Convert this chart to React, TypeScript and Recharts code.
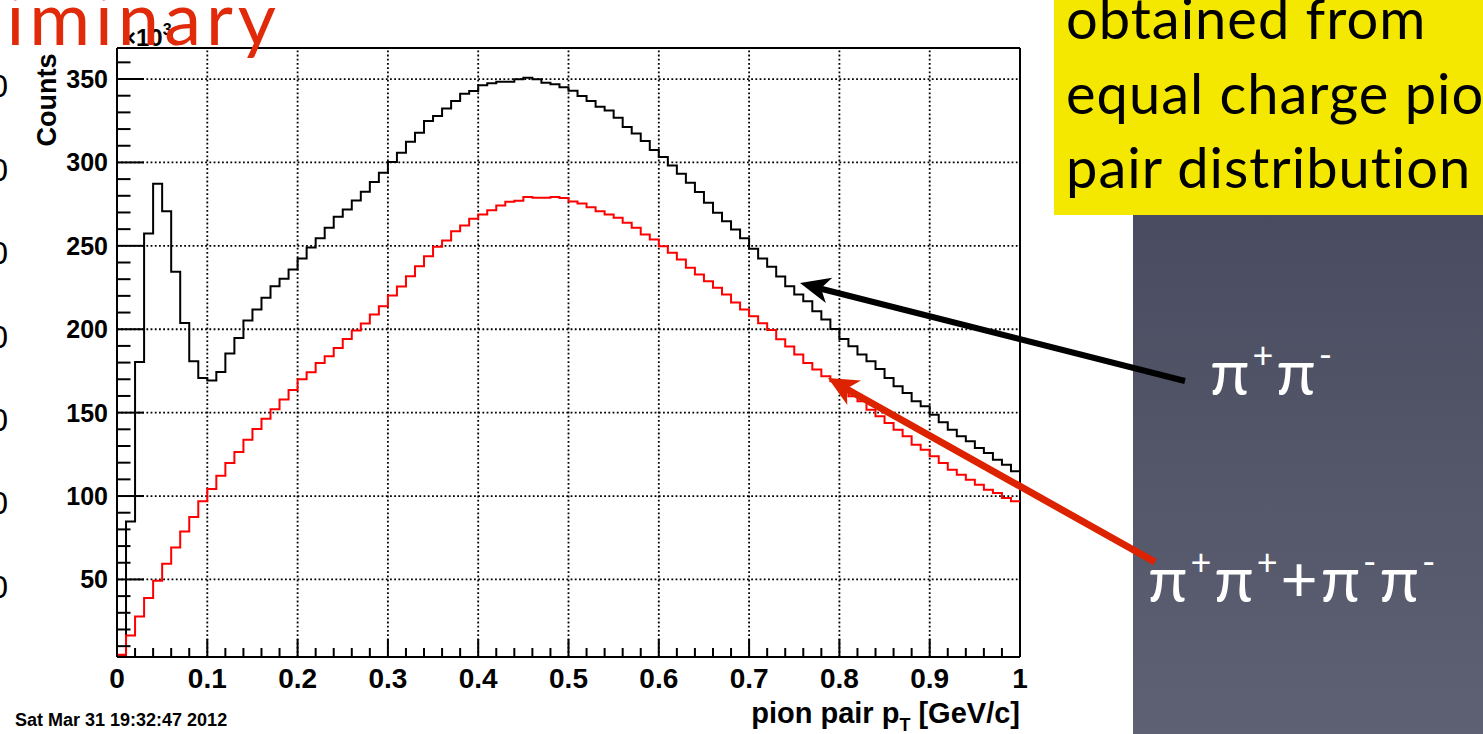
import React from "react";
import { LineChart, Line, XAxis, YAxis, ReferenceLine } from "recharts";

// pion pair pT histogram, 100 bins from 0 to 1 GeV/c, counts in units of 10^3
const binLowEdges = Array.from({ length: 100 }, (_, i) => i / 100);

// pi+ pi-  (black)
const unlikeSign = [
  4, 84.8, 180.4, 257.4, 287.2, 270.8, 234.4, 203.8, 180.8, 170.8,
  169.2, 174.4, 185.4, 194.8, 205.2, 211.8, 218.8, 225.8, 230.2, 235.8,
  242.4, 249.0, 254.6, 260.8, 267.4, 271.8, 277.2, 282.4, 288.2, 293.8,
  300.3, 305.8, 312.4, 317.8, 324.8, 327.8, 332.4, 336.8, 341.2, 342.8,
  346.2, 347.4, 348.4, 348.4, 349.8, 350.8, 349.8, 347.8, 346.8, 345.0,
  343.0, 339.8, 336.8, 333.4, 331.2, 326.8, 321.2, 317.4, 312.8, 307.4,
  303.2, 298.2, 293.2, 287.8, 282.2, 275.8, 269.8, 264.8, 259.8, 254.6,
  248.2, 242.4, 237.5, 231.6, 225.8, 220.8, 216.8, 210.8, 205.8, 200.2,
  194.2, 189.8, 184.8, 180.8, 176.2, 170.8, 165.8, 161.8, 156.8, 153.8,
  148.8, 144.2, 139.8, 135.8, 132.8, 128.8, 125.8, 121.8, 118.8, 114.8,
];

// pi+ pi+ + pi- pi-  (red)
const likeSign = [
  4.8, 16.4, 27.8, 38.8, 49.2, 59.4, 69.2, 78.8, 87.4, 96.8,
  104.2, 112.2, 119.8, 126.4, 133.8, 140.2, 146.3, 152.0, 157.8, 163.6,
  170.0, 174.2, 179.8, 183.8, 188.8, 194.2, 199.2, 203.4, 208.8, 213.8,
  220.2, 225.6, 231.8, 237.8, 243.8, 249.4, 253.2, 258.8, 262.2, 266.2,
  268.8, 271.4, 274.2, 276.4, 277.1, 279.2, 278.8, 278.8, 279.2, 278.7,
  276.6, 275.4, 273.2, 270.8, 268.8, 266.8, 263.8, 260.8, 256.8, 253.8,
  249.8, 245.8, 241.8, 236.8, 232.8, 228.8, 224.8, 220.8, 216.0, 211.8,
  207.8, 203.6, 199.6, 194.0, 189.6, 184.8, 179.8, 175.8, 171.8, 168.8,
  163.8, 159.8, 156.8, 151.8, 147.8, 143.8, 139.8, 135.8, 130.8, 127.8,
  123.8, 119.8, 115.8, 112.8, 109.8, 106.8, 103.8, 101.8, 98.8, 96.8,
];

const xGridLines = [0.1, 0.2, 0.3, 0.4, 0.5, 0.6, 0.7, 0.8, 0.9];
const yGridLines = [50, 100, 150, 200, 250, 300, 350];
const xTicks = Array.from({ length: 51 }, (_, i) => Math.round(i * 2) / 100);
const yTicks = Array.from({ length: 36 }, (_, i) => (i + 1) * 10);
const Y_MIN = 3.5;
const Y_MAX = 368.6;

const ROOT_FONT = "'Liberation Sans', Arial, Helvetica, sans-serif";
const SLIDE_FONT = "Lato, 'Open Sans', sans-serif";
const SLIDE_RED = "#e02a0a";

// step histogram: one point per bin low edge, plus the upper edge of the last bin
const histData = [
  ...binLowEdges.map((x, i) => ({ x, unlike: unlikeSign[i], like: likeSign[i] })),
  { x: 1, unlike: unlikeSign[99], like: likeSign[99] },
];

interface TickProps {
  x?: number;
  y?: number;
  payload?: { value: number };
}

function CountsTick({ x = 0, y = 0, payload }: TickProps) {
  const v = payload?.value ?? 0;
  const major = Math.round(v) % 50 === 0;
  return (
    <g>
      <line x1={x} y1={y} x2={x + (major ? 27 : 13.5)} y2={y} stroke="#000" strokeWidth={2} />
      {major && (
        <text
          x={x - 9}
          y={y + 9}
          textAnchor="end"
          fontFamily={ROOT_FONT}
          fontWeight="bold"
          fontSize={25}
          fill="#000"
        >
          {v}
        </text>
      )}
    </g>
  );
}

function PtTick({ x = 0, y = 0, payload }: TickProps) {
  const v = payload?.value ?? 0;
  const major = Math.round(v * 100) % 10 === 0;
  const label = v === 0 ? "0" : v === 1 ? "1" : v.toFixed(1);
  return (
    <g>
      <line x1={x} y1={y} x2={x} y2={y - (major ? 18 : 9)} stroke="#000" strokeWidth={2} />
      {major && (
        <text
          x={x}
          y={y + 31}
          textAnchor="middle"
          fontFamily={ROOT_FONT}
          fontWeight="bold"
          fontSize={28}
          fill="#000"
        >
          {label}
        </text>
      )}
    </g>
  );
}

function arrowHead(x0: number, y0: number, x1: number, y1: number, len: number, wid: number) {
  const d = Math.hypot(x1 - x0, y1 - y0);
  const ux = (x1 - x0) / d;
  const uy = (y1 - y0) / d;
  const nx = -uy;
  const ny = ux;
  const bx = x1 - ux * len;
  const by = y1 - uy * len;
  const pts = [
    [x1, y1],
    [bx + (nx * wid) / 2, by + (ny * wid) / 2],
    [x1 - ux * len * 0.72, y1 - uy * len * 0.72],
    [bx - (nx * wid) / 2, by - (ny * wid) / 2],
  ];
  return pts.map((p) => p.join(",")).join(" ");
}

function SlideOverlay() {
  const leftZeros = [86, 170, 253, 337, 420, 503, 587];
  const sup = { dy: -27, fontSize: 36 };
  const down = 27;
  return (
    <svg
      width={1483}
      height={734}
      style={{ position: "absolute", left: 0, top: 0, pointerEvents: "none" }}
    >
      <defs>
        <linearGradient id="panel" x1="0" y1="0" x2="0" y2="1">
          <stop offset="0%" stopColor="#414458" />
          <stop offset="100%" stopColor="#5e6173" />
        </linearGradient>
      </defs>

      {/* dark slide panel and yellow note box */}
      <rect x={1133} y={0} width={350} height={734} fill="url(#panel)" />
      <rect x={1054} y={0} width={429} height={215} fill="#f5e800" />
      <g fontFamily={SLIDE_FONT} fontSize={56} fill="#000" letterSpacing={1}>
        <text x={1066} y={39}>obtained from</text>
        <text x={1066} y={114}>equal charge pion</text>
        <text x={1066} y={188}>pair distribution</text>
      </g>

      <g fontFamily={SLIDE_FONT} fill="#fff" fontSize={64} letterSpacing={3}>
        <text x={1210} y={395}>
          π<tspan dy={sup.dy} fontSize={sup.fontSize}>+</tspan>
          <tspan dy={down}>π</tspan>
          <tspan dy={sup.dy} fontSize={sup.fontSize}>-</tspan>
        </text>
        <text x={1148} y={602}>
          π<tspan dy={sup.dy} fontSize={sup.fontSize}>+</tspan>
          <tspan dy={down}>π</tspan>
          <tspan dy={sup.dy} fontSize={sup.fontSize}>+</tspan>
          <tspan dy={down}>+π</tspan>
          <tspan dy={sup.dy} fontSize={sup.fontSize}>-</tspan>
          <tspan dy={down}>π</tspan>
          <tspan dy={sup.dy} fontSize={sup.fontSize}>-</tspan>
        </text>
      </g>

      {/* arrows pointing at the two histograms */}
      <line x1={1185} y1={381} x2={818} y2={288} stroke="#000" strokeWidth={6} />
      <polygon points={arrowHead(1185, 381, 800, 283, 30, 26)} fill="#000" />
      <line x1={1155} y1={562} x2={843} y2={387} stroke="#dd2200" strokeWidth={7} />
      <polygon points={arrowHead(1155, 562, 828, 378, 30, 28)} fill="#dd2200" />

      {/* pieces of the slide underneath */}
      {leftZeros.map((y) => (
        <text key={y} x={8} y={y + 11} textAnchor="end" fontFamily={ROOT_FONT} fontSize={32} fill="#000">
          0
        </text>
      ))}

      {/* ROOT canvas texts */}
      <text x={122} y={46} fontFamily={ROOT_FONT} fontWeight="bold" fontSize={24} fill="#000">
        ×10<tspan dy={-11} fontSize={16}>3</tspan>
      </text>
      <text
        transform="translate(56,100) rotate(-90)"
        textAnchor="middle"
        fontFamily={ROOT_FONT}
        fontWeight="bold"
        fontSize={27}
        fill="#000"
      >
        Counts
      </text>
      <text x={1020} y={723} textAnchor="end" fontFamily={ROOT_FONT} fontWeight="bold" fontSize={29} fill="#000">
        pion pair p<tspan dy={8} fontSize={18}>T</tspan>
        <tspan dy={-8}> [GeV/c]</tspan>
      </text>
      <text x={15} y={726} fontFamily={ROOT_FONT} fontWeight="bold" fontSize={18} fill="#000">
        Sat Mar 31 19:32:47 2012
      </text>

      <text
        x={281}
        y={45}
        textAnchor="end"
        fontFamily={SLIDE_FONT}
        fontSize={74}
        letterSpacing={5}
        fill={SLIDE_RED}
      >
        Preliminary
      </text>
    </svg>
  );
}

export default function App() {
  return (
    <div
      style={{
        position: "absolute",
        left: 0,
        top: 0,
        width: 1483,
        height: 734,
        overflow: "hidden",
        background: "#fff",
      }}
    >
      <LineChart
        width={1483}
        height={734}
        data={histData}
        margin={{ top: 48, right: 463, bottom: 0, left: 0 }}
      >
        <XAxis
          dataKey="x"
          type="number"
          domain={[0, 1]}
          ticks={xTicks}
          interval={0}
          tick={(p: TickProps) => <PtTick {...p} />}
          tickSize={0}
          tickMargin={0}
          tickLine={false}
          axisLine={{ stroke: "#000", strokeWidth: 2 }}
          height={77}
          allowDataOverflow
        />
        <YAxis
          type="number"
          domain={[Y_MIN, Y_MAX]}
          ticks={yTicks}
          interval={0}
          tick={(p: TickProps) => <CountsTick {...p} />}
          tickSize={0}
          tickMargin={0}
          tickLine={false}
          axisLine={{ stroke: "#000", strokeWidth: 2 }}
          width={117}
          allowDataOverflow
        />
        {yGridLines.map((v) => (
          <ReferenceLine key={`gy-${v}`} y={v} stroke="#000" strokeWidth={1.8} strokeDasharray="1.8 2.4" />
        ))}
        {xGridLines.map((v) => (
          <ReferenceLine key={`gx-${v}`} x={v} stroke="#000" strokeWidth={1.8} strokeDasharray="1.8 2.4" />
        ))}
        <ReferenceLine y={Y_MAX} stroke="#000" strokeWidth={2} />
        <ReferenceLine x={1} stroke="#000" strokeWidth={2} />
        <Line
          type="stepAfter"
          dataKey="unlike"
          stroke="#000"
          strokeWidth={2}
          dot={false}
          isAnimationActive={false}
        />
        <Line
          type="stepAfter"
          dataKey="like"
          stroke="#ff0000"
          strokeWidth={2}
          dot={false}
          isAnimationActive={false}
        />
      </LineChart>
      <SlideOverlay />
    </div>
  );
}
